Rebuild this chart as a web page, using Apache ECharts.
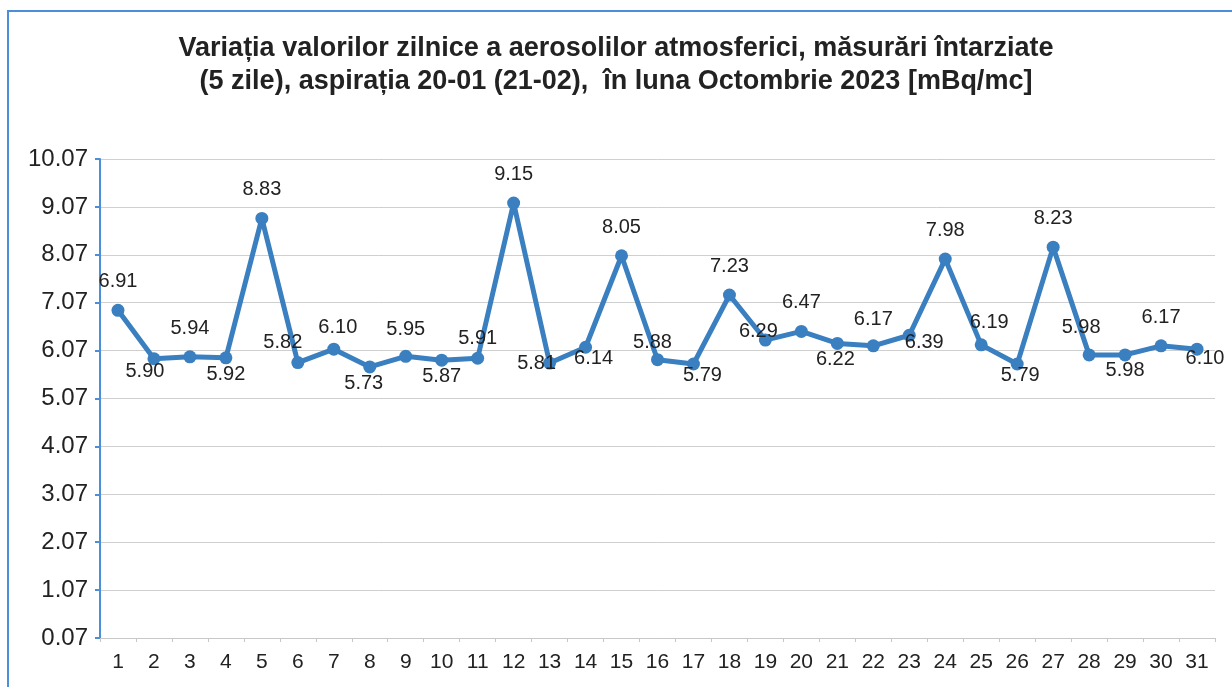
<!DOCTYPE html>
<html>
<head>
<meta charset="utf-8">
<script src="https://cdn.jsdelivr.net/npm/echarts@6/dist/echarts.min.js"></script>
<style>
  html, body { margin: 0; padding: 0; background: #fff; }
  #chart { width: 1232px; height: 687px; }
</style>
</head>
<body>
<div id="chart"></div>
<script>
// zilele lunii
const days = ['1','2','3','4','5','6','7','8','9','10','11','12','13','14','15','16',
  '17','18','19','20','21','22','23','24','25','26','27','28','29','30','31']
// valori zilnice [mBq/mc]
const values = [6.91, 5.90, 5.94, 5.92, 8.83, 5.82, 6.10, 5.73, 5.95, 5.87, 5.91,
  9.15, 5.81, 6.14, 8.05, 5.88, 5.79, 7.23, 6.29, 6.47, 6.22, 6.17, 6.39, 7.98,
  6.19, 5.79, 8.23, 5.98, 5.98, 6.17, 6.10]
// unde sta eticheta fata de punct
const labelPos = ['top','bottom','top','bottom','top','top','top','bottom','top','bottom','top',
  'top','bottom','bottom','top','top','bottom','top','top','top','bottom','top',
  'bottom','top','top','bottom','top','top','bottom','top','bottom']
const yMin = 0.07
const yMax = 10.07
const yStep = 1

const blue = '#3a7fc0'

// mici deplasari ale etichetelor (index -> [dx, dy])
const labelShift = {
  1: [-9, -4], 5: [-15, 8], 6: [4, 7], 7: [-6, 0], 8: [0, 2], 10: [0, 9],
  12: [-13, -16], 13: [8, -5], 15: [-5, 11], 16: [9, -5], 18: [-7, 20],
  20: [-2, 0], 21: [0, 2], 22: [15, -9], 24: [8, 6], 25: [3, -5],
  27: [-8, 1], 28: [0, -1], 30: [8, -7],
}

const seriesData = values.map((v, i) => {
  const pos = labelPos[i]
  const item = {
    value: v,
    label: { position: pos, distance: pos === 'top' ? 12 : 0 },
  }
  if (labelShift[i]) item.label.offset = labelShift[i]
  return item
})

const chart = echarts.init(document.getElementById('chart'))
chart.setOption({
  animation: false,
  backgroundColor: '#fff',
  title: {
    left: 'center',
    top: 27,
    text: 'Variația valorilor zilnice a aerosolilor atmosferici, măsurări întarziate\n(5 zile), aspirația 20-01 (21-02),  în luna Octombrie 2023 [mBq/mc]',
    textStyle: {
      fontFamily: 'Liberation Sans',
      fontSize: 27,
      fontWeight: 'bold',
      color: '#222',
      lineHeight: 33,
    },
  },
  graphic: [
    {
      type: 'rect',
      shape: { x: 8, y: 11, width: 1240, height: 700 },
      style: { fill: 'none', stroke: '#4a8fd8', lineWidth: 2 },
      silent: true,
    },
  ],
  grid: {
    left: 100,
    right: 17,
    top: 159,
    bottom: 49,
    containLabel: false,
  },
  xAxis: {
    type: 'category',
    data: days,
    boundaryGap: true,
    axisLine: { lineStyle: { color: '#c8c8c8', width: 1 } },
    axisTick: { show: true, length: 4, lineStyle: { color: '#c8c8c8' } },
    axisLabel: {
      interval: 0,
      color: '#222',
      fontFamily: 'Liberation Sans',
      fontSize: 21,
      margin: 14,
    },
  },
  yAxis: {
    type: 'value',
    min: yMin,
    max: yMax,
    interval: yStep,
    axisLine: { show: true, lineStyle: { color: '#4a8fd8', width: 2 } },
    axisTick: { show: true, length: 5, lineStyle: { color: '#4a8fd8', width: 2 } },
    axisLabel: {
      color: '#222',
      fontFamily: 'Liberation Sans',
      fontSize: 24,
      margin: 12,
      formatter: v => v.toFixed(2),
    },
    splitLine: { lineStyle: { color: '#cfcfcf', width: 1 } },
  },
  series: [
    {
      type: 'line',
      data: seriesData,
      symbol: 'circle',
      symbolSize: 13,
      lineStyle: { color: blue, width: 5 },
      itemStyle: { color: blue },
      label: {
        show: true,
        color: '#222',
        fontFamily: 'Liberation Sans',
        fontSize: 20,
        formatter: p => p.value.toFixed(2),
      },
    },
  ],
})
</script>
</body>
</html>
